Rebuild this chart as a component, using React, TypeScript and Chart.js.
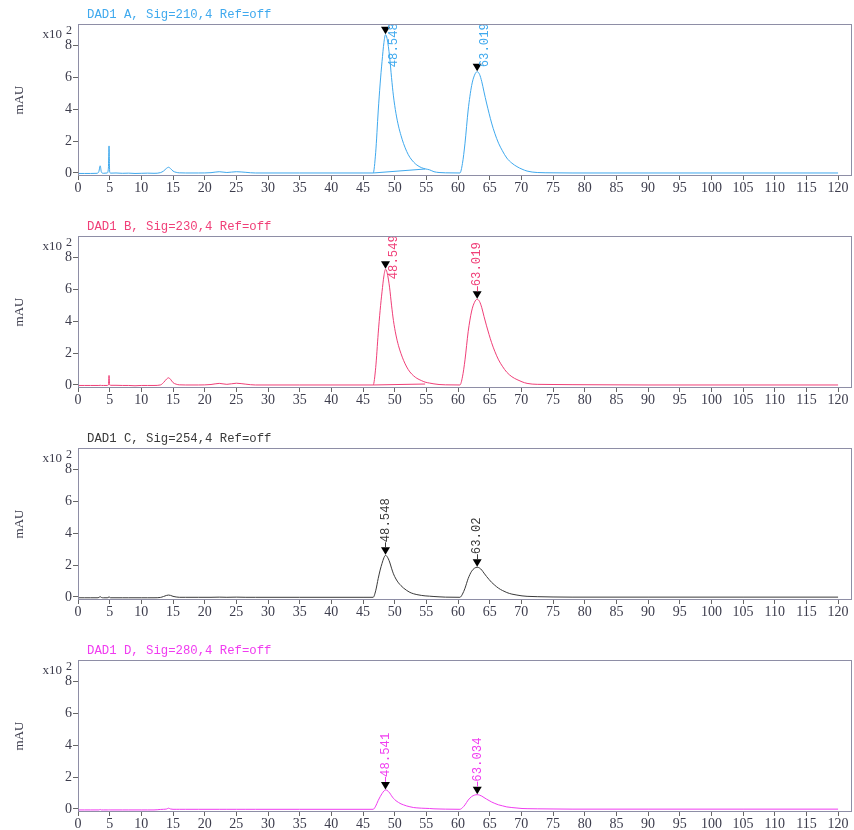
import React, { useEffect, useRef } from 'react';
import { Chart, registerables } from 'chart.js';

Chart.register(...registerables);

// Retention time (min)
const TIME = [
  0, 1, 2, 3, 3.3, 3.5, 3.7, 4, 4.6, 4.8, 4.9, 5.0, 5.2, 6, 7, 8, 9, 10, 11, 12,
  13, 13.5, 14, 14.3, 14.6, 15, 15.5, 16, 17, 19, 21, 22.3, 23.5, 25, 26.5, 28, 35, 45,
  46.6, 47, 47.4, 47.7, 48, 48.3, 48.55, 48.8, 49.2, 49.5, 49.8, 50.2, 50.6, 51, 51.4, 51.9,
  52.4, 53, 53.5, 54.2, 54.8, 55.5, 56.2, 57, 58,
  60.3, 60.7, 61.1, 61.6, 62.15, 62.6, 63.02, 63.4, 63.75, 64.1, 64.5, 64.9, 65.3, 65.8, 66.4,
  67, 67.7, 68.5, 69.3, 70.1, 70.9, 72.5, 75,
  78, 90, 105, 120,
];

// Signal (x100 mAU)
const SIG_A = [
  -0.03, -0.03, -0.03, -0.02, 0.1, 0.45, 0.05, -0.02, 0.0, 0.3, 1.7, 0.05, -0.01, 0.0, -0.02, -0.01, -0.03, -0.02, -0.01, -0.02,
  0.02, 0.12, 0.3, 0.36, 0.28, 0.12, 0.04, 0.01, 0.0, 0.0, 0.02, 0.08, 0.03, 0.08, 0.04, 0.0, 0.0, 0.0,
  0.0, 1.3, 3.9, 5.6, 7.0, 8.2, 8.7, 8.45, 7.3, 6.0, 4.85, 3.75, 2.95, 2.35, 1.85, 1.35,
  0.98, 0.68, 0.5, 0.34, 0.26, 0.2, 0.08, 0.03, 0.01,
  0.0, 0.6, 1.87, 3.96, 5.5, 6.15, 6.37, 6.2, 5.74, 5.1, 4.4, 3.75, 3.14, 2.5, 1.87,
  1.4, 0.94, 0.62, 0.4, 0.24, 0.12, 0.03, 0.01,
  0.0, 0.0, 0.0, 0.0,
];
const SIG_B = [
  -0.03, -0.03, -0.03, -0.03, -0.03, -0.02, -0.03, -0.03, -0.03, 0.0, 0.6, 0.0, -0.02, -0.02, -0.03, -0.03, -0.05, -0.03, -0.03, -0.03,
  0.0, 0.15, 0.38, 0.45, 0.36, 0.15, 0.05, 0.01, 0.0, 0.0, 0.03, 0.1, 0.04, 0.11, 0.05, 0.0, 0.0, 0.0,
  0.0, 1.09, 3.26, 4.69, 5.86, 6.86, 7.28, 7.07, 6.11, 5.02, 4.06, 3.14, 2.47, 1.97, 1.55, 1.13,
  0.82, 0.57, 0.42, 0.28, 0.18, 0.12, 0.07, 0.03, 0.01,
  0.0, 0.51, 1.58, 3.35, 4.65, 5.2, 5.39, 5.25, 4.86, 4.31, 3.72, 3.17, 2.66, 2.12, 1.58,
  1.18, 0.8, 0.52, 0.34, 0.2, 0.1, 0.04, 0.03,
  0.02, 0.0, 0.0, 0.0,
];
const SIG_C = [
  -0.05, -0.05, -0.05, -0.05, -0.03, 0.02, -0.03, -0.05, -0.05, -0.04, 0.02, -0.03, -0.05, -0.05, -0.05, -0.05, -0.05, -0.05, -0.05, -0.05,
  -0.03, 0.03, 0.1, 0.12, 0.1, 0.04, 0.0, -0.02, -0.02, -0.02, -0.02, -0.01, -0.02, -0.01, -0.02, -0.02, -0.02, -0.02,
  -0.02, 0.39, 1.17, 1.69, 2.11, 2.47, 2.62, 2.54, 2.2, 1.81, 1.46, 1.13, 0.89, 0.71, 0.56, 0.41,
  0.29, 0.2, 0.15, 0.1, 0.07, 0.05, 0.03, 0.01, -0.01,
  -0.02, 0.18, 0.55, 1.16, 1.62, 1.81, 1.87, 1.82, 1.69, 1.5, 1.29, 1.1, 0.92, 0.74, 0.55,
  0.41, 0.28, 0.18, 0.12, 0.07, 0.04, 0.02, 0.0,
  -0.01, -0.01, -0.01, -0.01,
];
const SIG_D = [
  -0.06, -0.06, -0.06, -0.06, -0.06, -0.03, -0.06, -0.06, -0.06, -0.06, -0.03, -0.06, -0.06, -0.06, -0.06, -0.06, -0.06, -0.06, -0.06, -0.06,
  -0.03, -0.02, 0.0, 0.05, 0.0, -0.02, -0.02, -0.02, -0.02, -0.02, -0.02, -0.02, -0.02, -0.02, -0.02, -0.02, -0.02, -0.02,
  -0.02, 0.18, 0.54, 0.77, 0.97, 1.13, 1.2, 1.17, 1.01, 0.83, 0.67, 0.52, 0.41, 0.32, 0.26, 0.19,
  0.14, 0.09, 0.07, 0.05, 0.04, 0.03, 0.01, 0.0, -0.01,
  -0.02, 0.08, 0.26, 0.56, 0.78, 0.87, 0.9, 0.87, 0.81, 0.72, 0.62, 0.53, 0.44, 0.35, 0.26,
  0.2, 0.13, 0.09, 0.06, 0.03, 0.02, 0.01, 0.0,
  -0.01, -0.01, -0.01, -0.01,
];

// Integration baselines drawn under first peak
const BASE_TIME = [46.6, 54.8];
const BASE_A = [0.0, 0.25];
const BASE_B = [0.0, 0.06];

const PEAK_TIMES_A = [48.548, 63.019];
const PEAK_LABELS_A = ['48.548', '63.019'];
const PEAK_TIMES_B = [48.549, 63.019];
const PEAK_LABELS_B = ['48.549', '63.019'];
const PEAK_TIMES_C = [48.548, 63.02];
const PEAK_LABELS_C = ['48.548', '63.02'];
const PEAK_TIMES_D = [48.541, 63.034];
const PEAK_LABELS_D = ['48.541', '63.034'];

const TITLES = [
  'DAD1 A, Sig=210,4 Ref=off',
  'DAD1 B, Sig=230,4 Ref=off',
  'DAD1 C, Sig=254,4 Ref=off',
  'DAD1 D, Sig=280,4 Ref=off',
];
const X_TICKS = [0, 5, 10, 15, 20, 25, 30, 35, 40, 45, 50, 55, 60, 65, 70, 75, 80, 85, 90, 95, 100, 105, 110, 115, 120];
const Y_TICKS = [0, 2, 4, 6, 8];

const PANEL_H = 212;
const W = 854;

type PanelDef = {
  title: string;
  color: string;
  sig: number[];
  base: number[] | null;
  peakTimes: number[];
  peakLabels: string[];
};

const PANELS: PanelDef[] = [
  { title: TITLES[0], color: '#3fa9ee', sig: SIG_A, base: BASE_A, peakTimes: PEAK_TIMES_A, peakLabels: PEAK_LABELS_A },
  { title: TITLES[1], color: '#f03f78', sig: SIG_B, base: BASE_B, peakTimes: PEAK_TIMES_B, peakLabels: PEAK_LABELS_B },
  { title: TITLES[2], color: '#3a3a3a', sig: SIG_C, base: null, peakTimes: PEAK_TIMES_C, peakLabels: PEAK_LABELS_C },
  { title: TITLES[3], color: '#f03cf0', sig: SIG_D, base: null, peakTimes: PEAK_TIMES_D, peakLabels: PEAK_LABELS_D },
];

const MONO = '"Liberation Mono", "DejaVu Sans Mono", monospace';
const SERIF = '"Liberation Serif", "DejaVu Serif", serif';
const AXIS_TXT = '#3c3c4c';

function Panel({ def, index }: { def: PanelDef; index: number }) {
  const ref = useRef<HTMLCanvasElement | null>(null);

  useEffect(() => {
    const canvas = ref.current;
    if (!canvas) return;

    const datasets: any[] = [
      {
        data: TIME.map((t, i) => ({ x: t, y: def.sig[i] })),
        borderColor: def.color,
        borderWidth: 1,
        pointRadius: 0,
        cubicInterpolationMode: 'monotone',
        fill: false,
      },
    ];
    if (def.base) {
      datasets.push({
        data: BASE_TIME.map((t, i) => ({ x: t, y: (def.base as number[])[i] })),
        borderColor: def.color,
        borderWidth: 1,
        pointRadius: 0,
        fill: false,
      });
    }

    const deco = {
      id: 'deco' + index,
      beforeDraw(chart: any) {
        const c = chart.ctx;
        c.save();
        c.fillStyle = '#ffffff';
        c.fillRect(0, 0, chart.width, chart.height);
        c.restore();
      },
      afterDatasetsDraw(chart: any) {
        const c = chart.ctx;
        const xs = chart.scales.x;
        const ys = chart.scales.y;
        const area = chart.chartArea;
        c.save();
        c.font = '12.3px ' + MONO;
        def.peakTimes.forEach((pt, k) => {
          let apex = -Infinity;
          TIME.forEach((t, i) => {
            if (Math.abs(t - pt) <= 1 && def.sig[i] > apex) apex = def.sig[i];
          });
          const px = xs.getPixelForValue(pt);
          const py = ys.getPixelForValue(apex);
          // triangle marker
          c.fillStyle = '#000';
          c.beginPath();
          c.moveTo(px - 4.5, py - 8);
          c.lineTo(px + 4.5, py - 8);
          c.lineTo(px, py - 0.5);
          c.closePath();
          c.fill();
          const label = def.peakLabels[k];
          const len = c.measureText(label).width;
          const triTop = py - 8;
          let textBottom = triTop - 5;
          let xc = px;
          let tick = true;
          if (textBottom - len < area.top + 1) {
            xc = px + 8;
            textBottom = area.top - 1 + len;
            tick = false;
          }
          c.strokeStyle = def.color;
          c.lineWidth = 1;
          if (tick) {
            c.beginPath();
            c.moveTo(Math.round(px) + 0.5, triTop);
            c.lineTo(Math.round(px) + 0.5, triTop - 5);
            c.stroke();
          }
          c.save();
          c.translate(xc, textBottom);
          c.rotate(-Math.PI / 2);
          c.fillStyle = def.color;
          c.textAlign = 'left';
          c.textBaseline = 'middle';
          c.fillText(label, 0, 0);
          c.restore();
        });
        c.restore();
      },
      afterDraw(chart: any) {
        const c = chart.ctx;
        const a = chart.chartArea;
        c.save();
        c.strokeStyle = '#8e8ea6';
        c.lineWidth = 1;
        c.strokeRect(a.left + 0.5, a.top + 0.5, a.right - a.left - 1, a.bottom - a.top - 1);
        // title
        c.fillStyle = def.color;
        c.font = '12.3px ' + MONO;
        c.textAlign = 'left';
        c.textBaseline = 'middle';
        c.fillText(def.title, 87, 15);
        // x10^2
        c.fillStyle = AXIS_TXT;
        c.font = '13px ' + SERIF;
        c.textAlign = 'right';
        c.fillText('x10', 62, 35);
        c.textAlign = 'center';
        c.font = '12px ' + SERIF;
        c.fillText('2', 69, 31);
        // mAU
        c.save();
        c.translate(20, (a.top + a.bottom) / 2);
        c.rotate(-Math.PI / 2);
        c.font = '13px ' + SERIF;
        c.textAlign = 'center';
        c.textBaseline = 'middle';
        c.fillText('mAU', 0, 0);
        c.restore();
        c.restore();
      },
    };

    const chart = new Chart(canvas, {
      type: 'line',
      data: { datasets },
      options: {
        animation: false,
        responsive: false,
        maintainAspectRatio: false,
        layout: { padding: { top: 24, right: 2, left: 0, bottom: 0 } },
        plugins: { legend: { display: false }, tooltip: { enabled: false }, title: { display: false } },
        scales: {
          x: {
            type: 'linear',
            min: 0,
            max: 122.2,
            afterBuildTicks: (axis: any) => {
              axis.ticks = X_TICKS.map((v) => ({ value: v }));
            },
            afterFit: (scale: any) => {
              scale.height = 36;
            },
            border: { display: false },
            grid: { display: true, drawOnChartArea: false, drawTicks: true, tickLength: 4, color: '#666' },
            ticks: {
              autoSkip: false,
              maxRotation: 0,
              padding: 0,
              color: AXIS_TXT,
              font: { family: SERIF, size: 14 },
              callback: (v: any) => String(v),
            },
          },
          y: {
            type: 'linear',
            min: -0.19,
            max: 9.37,
            afterBuildTicks: (axis: any) => {
              axis.ticks = Y_TICKS.map((v) => ({ value: v }));
            },
            afterFit: (scale: any) => {
              scale.width = 78;
            },
            border: { display: false },
            grid: { display: true, drawOnChartArea: false, drawTicks: true, tickLength: 5, color: '#666' },
            ticks: {
              padding: 1,
              color: AXIS_TXT,
              font: { family: SERIF, size: 14 },
              callback: (v: any) => String(v),
            },
          },
        },
      } as any,
      plugins: [deco],
    });

    return () => chart.destroy();
  }, [def, index]);

  return (
    <canvas
      ref={ref}
      width={W}
      height={PANEL_H}
      style={{ position: 'absolute', left: 0, top: index * PANEL_H, width: W, height: PANEL_H, display: 'block' }}
    />
  );
}

export default function App() {
  return (
    <div
      style={{
        position: 'fixed',
        left: 0,
        top: 0,
        width: W,
        height: 830,
        overflow: 'hidden',
        background: '#ffffff',
      }}
    >
      {PANELS.map((p, i) => (
        <Panel key={i} def={p} index={i} />
      ))}
    </div>
  );
}
